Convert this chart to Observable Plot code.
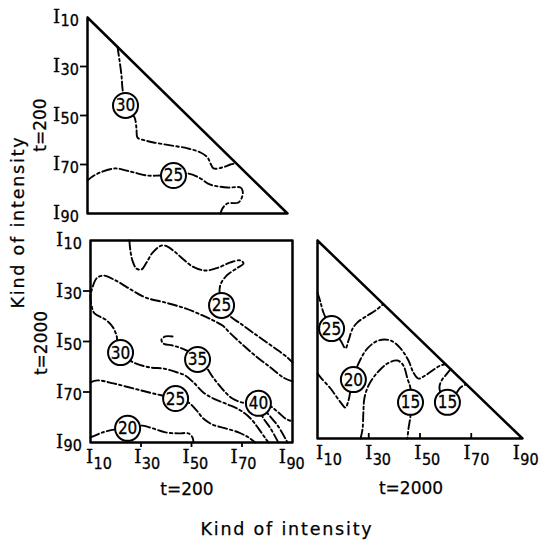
<!DOCTYPE html>
<html><head><meta charset="utf-8">
<script src="https://cdn.jsdelivr.net/npm/d3@7"></script>
<script src="https://cdn.jsdelivr.net/npm/@observablehq/plot@0.6"></script>
<style>
html,body{margin:0;padding:0;background:#fff;}
#chart{position:relative;width:540px;height:545px;background:#fff;overflow:hidden;}
#chart svg{position:absolute;left:0;top:0;}
.lbl{position:absolute;font-family:"DejaVu Sans",sans-serif;font-size:17.5px;color:#000;white-space:nowrap;letter-spacing:1.8px;line-height:1;-webkit-text-stroke:0.25px #000;}
.t{font-size:17px;letter-spacing:0;}
.rot{transform:translate(-50%,-50%) rotate(-90deg);}
.ctr{transform:translate(-50%,-50%);}
</style></head><body><div id="chart"></div>
<script>
// ---- tick labels ----
const tickValues = [10, 30, 50, 70, 90];
const tickDigits = ["10", "30", "50", "70", "90"];
const innerTicks = [30, 50, 70];

// ---- frames ----
const triangleX = [10, 90, 10, 10];
const triangleY = [10, 90, 90, 10];
const squareX = [10, 90, 90, 10, 10];
const squareY = [10, 10, 90, 90, 10];

// ---- Panel A (top triangle, t=200 vs t=200) ----
const a30 = [[22,22],[22.8,27.5],[23.6,33.7],[24,39],[25.2,45.9],[28.8,50.8],[29.6,55.3],[30,59],[33.2,60.2],[36.4,61],[43.2,62.2],[50,63.4],[55.2,65.1],[58,67.1],[59.2,69.6],[60.4,71.6],[64,71.2],[67.2,70],[69.5,69.5]];
const a25 = [[10,76.5],[12,74.9],[15.2,73.2],[21.2,71.6],[25.2,72.4],[28.4,73.2],[34,74.5],[39.2,74.5],[44.4,74.5],[50.4,73.7],[55.2,75.7],[58,77.7],[60,78.5],[66,79.4],[71.2,79.4],[72,80.6],[72,82.6],[70.4,85.5],[66,85.9],[64,87.9],[63.2,90]];
const aLabelX = [25.2, 44.4];
const aLabelY = [45.9, 74.5];
const aLabelText = ["30", "25"];

// ---- Panel B (square, t=200 vs t=2000) ----
const bTop25 = [[25.4,10],[25.8,14],[26.6,17.9],[28.2,21.1],[30.2,21.5],[32.2,18.7],[34.6,14.8],[38.1,12],[40.5,12.4],[43.3,14.4],[46.4,17.1],[50.4,20.3],[55.5,21.9],[60.7,20.7],[65.4,18.7],[69.4,17.9],[70.6,19.1],[67.8,21.1],[63.9,23.9],[61.5,27.4],[61.1,31],[61.9,35.7],[65.4,40.1],[69.4,42.9],[74.2,46.4],[79.3,50],[84.4,53.6],[88.4,56.7],[90,58.3]];
const b30 = [[90,65.8],[86.4,64.3],[81.3,60.3],[76.1,56.3],[70.6,51.6],[65.4,46.8],[62.3,43.7],[58.7,41.7],[54.4,39.7],[47.6,36.9],[39.7,34.6],[31.8,32.6],[26.6,29.8],[19.9,25.8],[15.1,23.9],[12.4,25],[10.8,28.6],[10,32.2],[10.4,35.7],[11.6,38.9],[15.9,41.3],[18.7,44.1],[20.3,47.6],[20.7,50.4],[21.9,54.4],[27,58.3],[33.8,60.3],[38.9,60.7],[44.5,62.3],[47.6,63.5],[50.8,66.2],[54.7,70.2],[58.7,72.6],[64.3,74.9],[69.4,77.3],[73.4,80.5],[76.5,84.4],[79.3,88.4],[80.5,90]];
const b35 = [[42.5,48],[39.7,48],[38.1,49.2],[38.9,50.8],[42.5,51.6],[46.4,52.8],[49.6,54.4],[52.4,57.1],[55.9,60.3],[58.3,63.9],[60.7,67],[63.1,69.8],[66.2,72.6],[70.2,74.2],[73.4,74.5],[76.5,74.5],[81.3,75.7],[84.4,78.1],[87.2,80.5],[90,81.7]];
const b40a = [[76.5,74.5],[78.1,79.7],[81.3,84.4],[84.4,90]];
const b40b = [[76.5,74.5],[80.5,78.9],[84.4,83.7],[88,90]];
const b25low = [[10,66.2],[12.8,65.4],[19.1,66.6],[27,68.6],[34.9,70.6],[43.7,72.6],[48.8,74.2],[52,77.3],[54.7,80.5],[58.3,82.9],[63.5,84.4],[68.6,86],[72.6,88],[75.3,90]];
const b20 = [[10,88],[14.8,86],[19.9,84.8],[24.7,84.4],[30.6,83.3],[34.6,84.4],[39.7,86],[44.8,86.4],[48.8,86.4],[50.4,88],[50.8,90]];
const bLabelX = [61.9, 21.9, 52.4, 43.7, 76.5, 24.7];
const bLabelY = [35.7, 54.4, 57.1, 72.6, 74.5, 84.4];
const bLabelText = ["25", "30", "35", "25", "40", "20"];

// ---- Panel C (bottom-right triangle, t=2000 vs t=2000) ----
const c25 = [[10,31],[11.2,35],[12.3,39.1],[15.5,45.6],[19,50.4],[20.9,53.6],[22.1,50.4],[23.7,45.6],[25.6,43.1],[29.5,40.3],[32.6,38.3],[35.7,35.7]];
const c20 = [[10,63.7],[11.2,65.3],[15.1,69.8],[19,75.4],[20.9,77.5],[22.1,74.6],[22.9,70.6],[24,65.8],[26,59.7],[29.5,53.6],[33.8,50.4],[38.5,50.4],[42.4,53.6],[45.5,58.5],[47.4,63.3],[49.4,65.8],[52.1,64.5],[54.9,62.5],[58,60.5],[60,60]];
const c15a = [[26.8,90],[27.6,86],[27.9,79.5],[28.3,73.8],[29.9,68.6],[33.4,63.3],[37.3,59.7],[41.2,58.5],[43.5,60.5],[45.1,65.8],[46.3,69.8],[46.3,75.4],[46.3,80.7],[45.5,86],[45.1,90]];
const c15b = [[62,62],[60.3,64.1],[58.4,66.6],[57.6,69.8],[60.7,75.4],[63.8,72.2],[65.8,69.4],[68.1,68.1]];
const cLabelX = [15.5, 24, 46.3, 60.7];
const cLabelY = [45.6, 66.2, 75.4, 75.4];
const cLabelText = ["25", "20", "15", "15"];

const W = 540, H = 545;
const serif = "DejaVu Serif, Liberation Serif, serif";
const narrow = "Liberation Sans Narrow, DejaVu Sans Condensed, DejaVu Sans, sans-serif";
const ink = {fill: "black", stroke: "black", strokeWidth: 0.3};

function panel(o) {
  const u = 80 / (o.right - o.left); // data units per pixel (x)
  const v = 80 / (o.bottom - o.top); // data units per pixel (y)
  const lines = o.contours.flatMap((c, i) => c.map(([x, y]) => ({x, y, id: i})));
  const frame = o.frameX.map((x, i) => ({x, y: o.frameY[i]}));
  const labels = o.labelX.map((x, i) => ({x, y: o.labelY[i], t: o.labelText[i]}));
  const marks = [
    Plot.line(lines, {x: "x", y: "y", z: "id", stroke: "black", strokeWidth: 1.9, strokeDasharray: "9,3,2.5,3", curve: "catmull-rom"}),
    Plot.line(frame, {x: "x", y: "y", stroke: "black", strokeWidth: 2.5}),
    Plot.dot(labels, {x: "x", y: "y", r: 12.5, fill: "white", stroke: "black", strokeWidth: 2}),
    Plot.text(labels, {x: "x", y: "y", text: "t", fontSize: 17, fontFamily: narrow, ...ink, dy: 0.5})
  ];
  if (o.yAxis) {
    marks.push(
      Plot.ruleY(innerTicks, {y: d => d, x1: 10 - 7 * u, x2: 10, stroke: "black", strokeWidth: 1.8}),
      Plot.text(tickValues, {x: 10, y: d => d, text: () => "I", dx: -31, fontFamily: serif, fontSize: 18, textAnchor: "middle", ...ink}),
      Plot.text(tickValues, {x: 10, y: d => d, text: (d, i) => tickDigits[i], dx: -27, dy: 3, fontFamily: narrow, fontSize: 16, textAnchor: "start", ...ink})
    );
  }
  if (o.xAxis) {
    // label positions drift slightly left of their ticks, as in the original print
    const lx = d => d - (d - 10) * o.drift;
    marks.push(
      Plot.ruleX(innerTicks, {x: d => d, y1: 90, y2: 90 + o.xTickDir * 5 * v, stroke: "black", strokeWidth: 1.8}),
      Plot.text(tickValues, {x: lx, y: 90, text: () => "I", dx: o.idx, dy: 15, fontFamily: serif, fontSize: 18, textAnchor: "middle", ...ink}),
      Plot.text(tickValues, {x: lx, y: 90, text: (d, i) => tickDigits[i], dx: o.idx + 4, dy: 21, fontFamily: narrow, fontSize: 16, textAnchor: "start", ...ink})
    );
  }
  return Plot.plot({
    width: W, height: H,
    marginLeft: o.left, marginRight: W - o.right, marginTop: o.top, marginBottom: H - o.bottom,
    x: {domain: [10, 90], axis: null},
    y: {domain: [10, 90], reverse: true, axis: null},
    style: {background: "transparent", overflow: "visible"},
    marks
  });
}

const chart = document.getElementById("chart");
chart.append(panel({left: 87, right: 287, top: 17, bottom: 213, frameX: triangleX, frameY: triangleY,
  contours: [a30, a25], labelX: aLabelX, labelY: aLabelY, labelText: aLabelText, yAxis: true}));
chart.append(panel({left: 90, right: 292, top: 240, bottom: 442, frameX: squareX, frameY: squareY,
  contours: [bTop25, b30, b35, b40a, b40b, b25low, b20], labelX: bLabelX, labelY: bLabelY, labelText: bLabelText,
  yAxis: true, xAxis: true, xTickDir: 1, drift: 0.045, idx: -1}));
chart.append(panel({left: 317, right: 522, top: 240, bottom: 438, frameX: triangleX, frameY: triangleY,
  contours: [c25, c20, c15a, c15b], labelX: cLabelX, labelY: cLabelY, labelText: cLabelText,
  xAxis: true, xTickDir: -1, drift: 0.04, idx: 2}));

function addLabel(text, x, y, cls) {
  const d = document.createElement("div");
  d.className = "lbl " + cls;
  d.style.left = x + "px";
  d.style.top = y + "px";
  d.textContent = text;
  chart.append(d);
}
addLabel("Kind of intensity", 19, 222, "rot");
addLabel("t=200", 40, 125, "rot t");
addLabel("t=2000", 41, 343, "rot t");
addLabel("t=200", 187, 489, "ctr t");
addLabel("t=2000", 411, 488, "ctr t");
addLabel("Kind of intensity", 287, 530, "ctr");
</script></body></html>
